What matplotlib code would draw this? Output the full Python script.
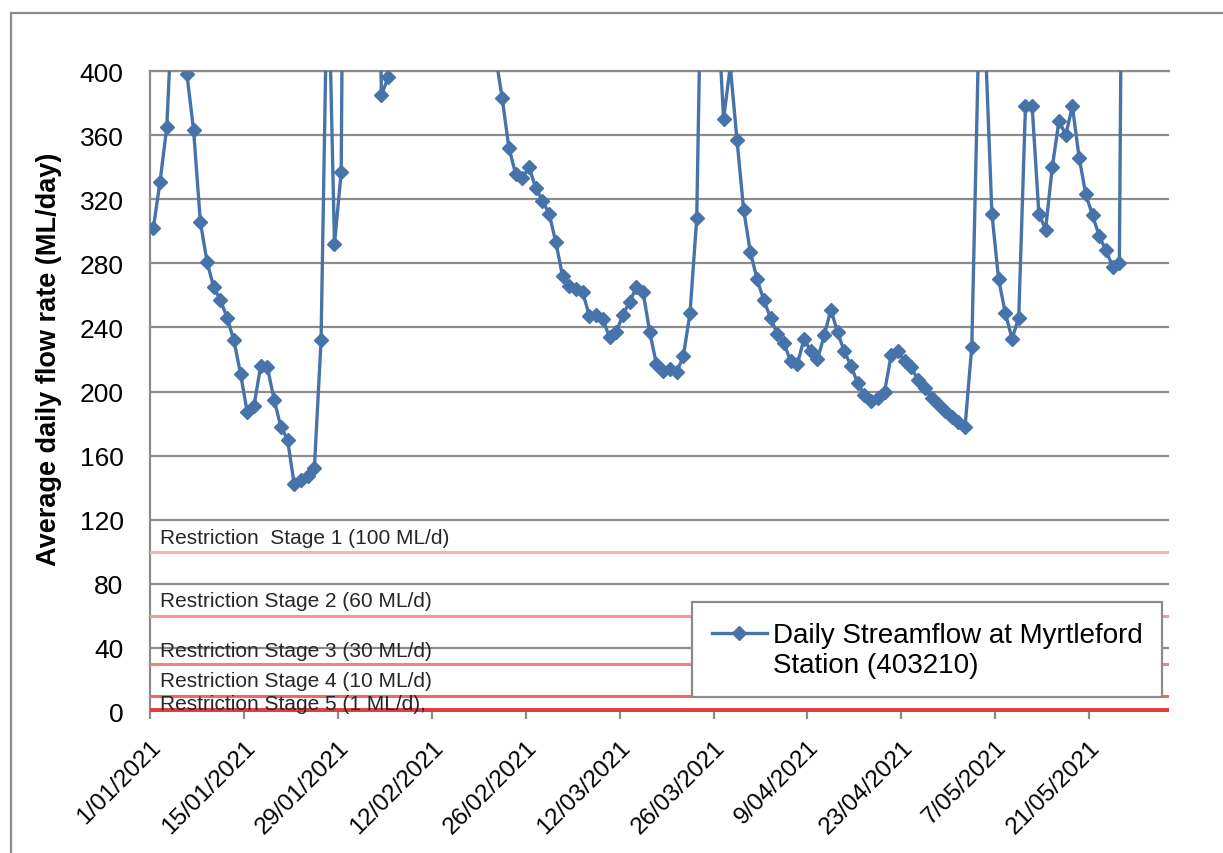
import numpy as np
import pandas as pd
import matplotlib
matplotlib.use('Agg')
import matplotlib.pyplot as plt
from matplotlib.lines import Line2D
from matplotlib.legend_handler import HandlerLine2D
from matplotlib.transforms import blended_transform_factory

plt.rcParams['font.family'] = ['Liberation Sans', 'DejaVu Sans']

# ── data ──
start_date = '2021-01-01'
flow = [
    302, 331, 365, 455, 440, 398, 363, 306, 281, 265,   # 1/01 - 10/01
    257, 246, 232, 211, 187, 191, 216, 215, 195, 178,   # 11/01 - 20/01
    170, 142, 145, 147, 152, 232, 480, 292, 337, 900,   # 21/01 - 30/01
    800, 700, 650, 600, 385, 396, 600, 700, 750, 800,   # 31/01 - 9/02
    850, 900, 950, 1000, 950, 900, 850, 800, 700, 600,  # 10/02 - 19/02
    500, 410, 383, 352, 336, 333, 340, 327, 319, 311,   # 20/02 - 1/03
    293, 272, 266, 264, 262, 247, 248, 245, 234, 237,   # 2/03 - 11/03
    248, 256, 265, 262, 237, 217, 213, 214, 212, 222,   # 12/03 - 21/03
    249, 308, 550, 600, 450, 370, 403, 357, 313, 287,   # 22/03 - 31/03
    270, 257, 246, 236, 230, 219, 217, 233, 225, 220,   # 1/04 - 10/04
    235, 251, 237, 225, 216, 205, 198, 194, 196, 200,   # 11/04 - 20/04
    223, 225, 219, 215, 207, 202, 196, 192, 188, 184,   # 21/04 - 30/04
    181, 178, 228, 415, 420, 311, 270, 249, 233, 246,   # 1/05 - 10/05
    378, 378, 311, 301, 340, 369, 360, 378, 346, 323,   # 11/05 - 20/05
    310, 297, 288, 278, 280, 850,                       # 21/05 - 26/05
]
series_label = 'Daily Streamflow at Myrtleford\nStation (403210)'

stage_values = [100, 60, 30, 10, 1]
stage_labels = [
    'Restriction  Stage 1 (100 ML/d)',
    'Restriction Stage 2 (60 ML/d)',
    'Restriction Stage 3 (30 ML/d)',
    'Restriction Stage 4 (10 ML/d)',
    'Restriction Stage 5 (1 ML/d),',
]
stage_colors = ['#f6b3b3', '#f59a9a', '#f08282', '#ee6868', '#e23c3c']

tick_labels = ['1/01/2021', '15/01/2021', '29/01/2021', '12/02/2021',
               '26/02/2021', '12/03/2021', '26/03/2021', '9/04/2021',
               '23/04/2021', '7/05/2021', '21/05/2021']
y_ticks = [0, 40, 80, 120, 160, 200, 240, 280, 320, 360, 400]


class FirstLineHandler(HandlerLine2D):
    """legend handle lined up with the first text line (Excel style)"""
    def create_artists(self, legend, orig_handle, xdescent, ydescent,
                       width, height, fontsize, trans):
        arts = super().create_artists(legend, orig_handle, xdescent, ydescent,
                                      width, height, fontsize, trans)
        for a in arts:
            a.set_ydata(np.asarray(a.get_ydata(), dtype=float) + 0.6 * fontsize)
        return arts


# ── figure ──
W, H = 1223, 854
fig = plt.figure(figsize=(W / 100, H / 100), dpi=100)
ax = fig.add_axes([150 / W, 1 - 713 / H, 1019 / W, 641 / H])

# outer chart frame (top + left visible)
frame_c = '#8c8c8c'
fig.add_artist(Line2D([11 / W, 11 / W], [0, 1 - 14 / H], transform=fig.transFigure,
                      color=frame_c, lw=1.6))
fig.add_artist(Line2D([11 / W, 1], [1 - 14 / H, 1 - 14 / H], transform=fig.transFigure,
                      color=frame_c, lw=1.6))

dates = pd.date_range(start_date, periods=len(flow), freq='D')
# Excel date axis: each day sits in the middle of its slot
half = pd.Timedelta(hours=12)
x0 = dates[0] - half

grid_c = '#8c8c8c'
ax.set_yticks(y_ticks)
ax.grid(axis='y', color=grid_c, lw=1.6)
ax.set_axisbelow(True)
for s in ['right', 'bottom']:
    ax.spines[s].set_visible(False)
for s in ['left', 'top']:
    ax.spines[s].set_color(grid_c)
    ax.spines[s].set_linewidth(1.6)

# restriction stage lines + labels
blend = blended_transform_factory(ax.transAxes, ax.transData)
label_offsets = [9, 9.5, 8.5, 9.5, 4.5]
for v, lab, c, off in zip(stage_values, stage_labels, stage_colors, label_offsets):
    ax.axhline(v, color=c, lw=2.2 if v > 5 else 2.8, zorder=3)
    ax.text(0.0098, v + off, lab, transform=blend, fontsize=15, va='center', ha='left',
            color='#262626', zorder=4)

line, = ax.plot(dates, flow, color='#4673aa', lw=2.4, marker='D', ms=7.5,
                mec='#4673aa', zorder=5, label=series_label)

ax.set_ylim(0, 400)
ax.set_xlim(x0, x0 + pd.Timedelta(days=151.9))

tick_pos = pd.to_datetime(tick_labels, format='%d/%m/%Y') - half
ax.set_xticks(tick_pos)
ax.set_xticklabels(tick_labels, rotation=45, ha='right', va='top',
                   rotation_mode='anchor', fontsize=17.5)
ax.tick_params(axis='x', length=5, width=1.6, color=grid_c, pad=12)
ax.tick_params(axis='y', length=0, pad=19, labelsize=19)

ax.set_ylabel('Average daily flow rate (ML/day)', fontsize=19.5, fontweight='bold')
ax.yaxis.set_label_coords(-0.086, 0.552)

leg = ax.legend(handles=[line], loc='lower left', bbox_to_anchor=(0.532, 0.0234),
                handler_map={Line2D: FirstLineHandler()},
                frameon=True, fancybox=False, framealpha=1, edgecolor='#8c8c8c',
                fontsize=20, handlelength=2.0, handletextpad=0.2, borderpad=0.7,
                borderaxespad=0)
leg.get_frame().set_linewidth(1.6)
leg.set_zorder(6)

fig.savefig('out.png', dpi=100)
